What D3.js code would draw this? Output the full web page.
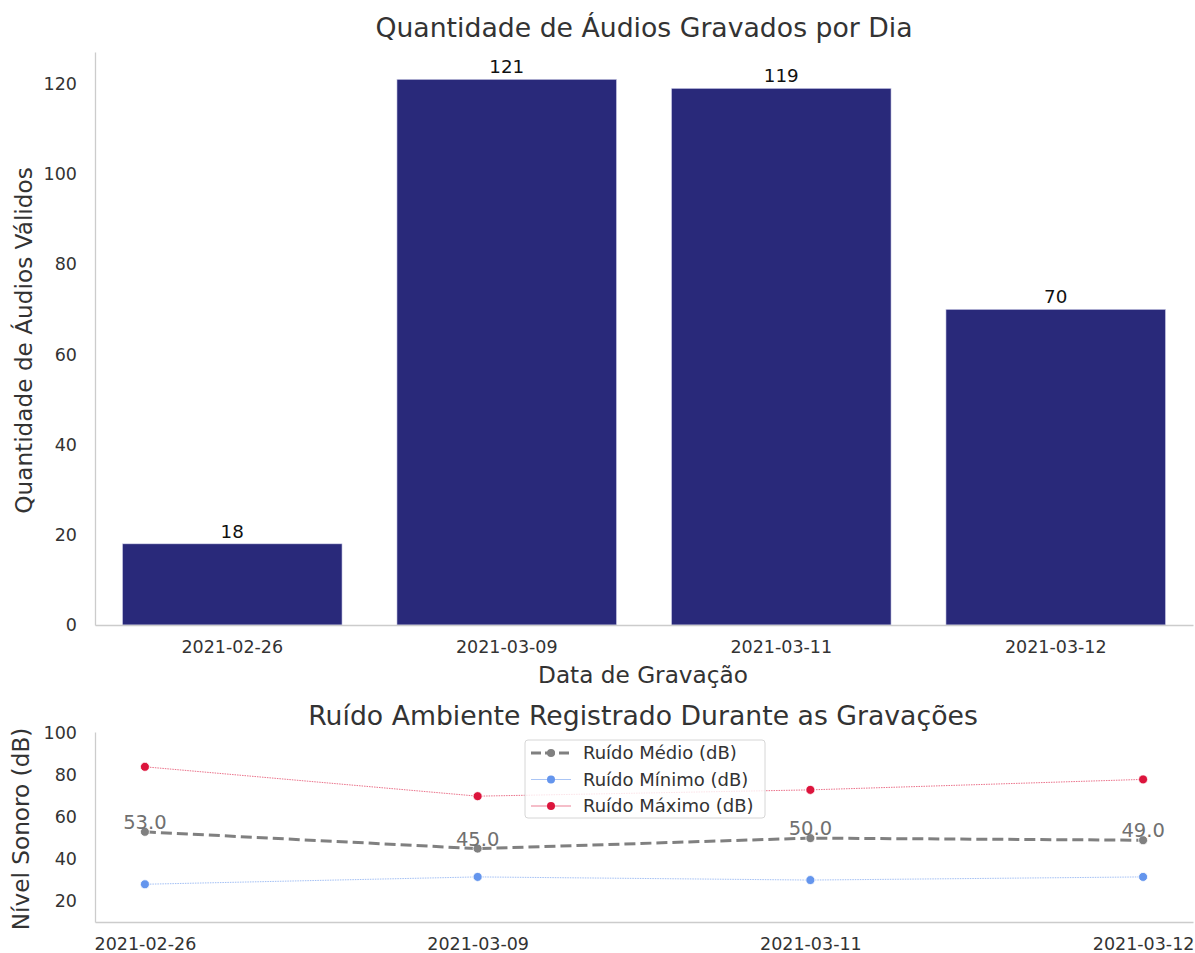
<!DOCTYPE html>
<html>
<head>
<meta charset="utf-8">
<script src="https://cdn.jsdelivr.net/npm/d3@7"></script>
<style>
  body { margin: 0; background: #fff; }
  svg text { font-family: "DejaVu Sans", sans-serif; }
</style>
</head>
<body>
<svg width="1195" height="953"></svg>
<script>
// dados
const dates = ["2021-02-26", "2021-03-09", "2021-03-11", "2021-03-12"];
const audioCounts = [18, 121, 119, 70];
const noiseMean = [53, 45, 50, 49];
const noiseMin = [28, 31.5, 30, 31.5];
const noiseMax = [84, 70, 73, 78];
const countTicks = [0, 20, 40, 60, 80, 100, 120];
const noiseTicks = [20, 40, 60, 80, 100];

const svg = d3.select("svg");
const spine = "#cccccc";
const textCol = "#333";

function styleAxis(ax) {
  ax.attr("font-family", null);
  ax.select(".domain").attr("stroke", spine).attr("stroke-width", 1.3);
  ax.selectAll("text").style("font-size", "17.5px").attr("fill", textCol);
}

// ---- gráfico de barras ----
const left = 95, right = 1193;
const top1 = 52, bottom1 = 625;

const x1 = d3.scaleBand().domain(dates).range([left, right]).paddingInner(0.2).paddingOuter(0.1);
const y1 = d3.scaleLinear().domain([0, 127.05]).range([bottom1, top1]);

const g1 = svg.append("g");

g1.selectAll(".bar")
  .data(dates)
  .enter()
  .append("rect")
  .attr("class", "bar")
  .attr("x", d => x1(d))
  .attr("width", x1.bandwidth())
  .attr("y", (d, i) => y1(audioCounts[i]))
  .attr("height", (d, i) => y1(0) - y1(audioCounts[i]))
  .attr("fill", "#29297a")
  .attr("stroke", "#d8d8ee")
  .attr("stroke-width", 0.6);

g1.selectAll(".barlabel")
  .data(dates)
  .enter()
  .append("text")
  .attr("x", d => x1(d) + x1.bandwidth() / 2)
  .attr("y", (d, i) => y1(audioCounts[i]) - 6)
  .attr("text-anchor", "middle")
  .style("font-size", "18.3px")
  .attr("fill", "#111")
  .text((d, i) => audioCounts[i]);

// eixos
const yAxis1 = g1.append("g")
  .attr("transform", `translate(${left},0)`)
  .call(d3.axisLeft(y1).tickValues(countTicks).tickSize(0).tickPadding(18));
styleAxis(yAxis1);

const xAxis1 = g1.append("g")
  .attr("transform", `translate(0,${bottom1})`)
  .call(d3.axisBottom(x1).tickSize(0).tickPadding(16));
styleAxis(xAxis1);

svg.append("text")
  .attr("x", 644).attr("y", 37)
  .attr("text-anchor", "middle")
  .style("font-size", "26.7px").attr("fill", textCol)
  .text("Quantidade de Áudios Gravados por Dia");

svg.append("text")
  .attr("x", 643).attr("y", 683)
  .attr("text-anchor", "middle")
  .style("font-size", "23.2px").attr("fill", textCol)
  .text("Data de Gravação");

svg.append("text")
  .attr("transform", `translate(32,${(top1 + bottom1) / 2 + 2}) rotate(-90)`)
  .attr("text-anchor", "middle")
  .style("font-size", "23.2px").attr("fill", textCol)
  .text("Quantidade de Áudios Válidos");

// ---- gráfico de linhas (ruído) ----
const top2 = 732, bottom2 = 922;
const x2 = d3.scalePoint().domain(dates).range([left, right]).padding(0.15);
const y2 = d3.scaleLinear().domain([10, 100.6]).range([bottom2, top2]);

const g2 = svg.append("g");

const yAxis2 = g2.append("g")
  .attr("transform", `translate(${left},0)`)
  .call(d3.axisLeft(y2).tickValues(noiseTicks).tickSize(0).tickPadding(18));
styleAxis(yAxis2);

const xAxis2 = g2.append("g")
  .attr("transform", `translate(0,${bottom2})`)
  .call(d3.axisBottom(x2).tickSize(0).tickPadding(16));
styleAxis(xAxis2);

const series = [
  { name: "Ruído Médio (dB)", values: noiseMean, color: "#808080", width: 3, dash: "11,5", opacity: 1, r: 4.5 },
  { name: "Ruído Mínimo (dB)", values: noiseMin, color: "#6495ed", width: 1, dash: "1.5,1", opacity: 0.6, r: 4.5 },
  { name: "Ruído Máximo (dB)", values: noiseMax, color: "#dc143c", width: 1, dash: "1.5,1", opacity: 0.6, r: 4.5 }
];

const line = d3.line().x(d => x2(d.date)).y(d => y2(d.v));

series.forEach(s => {
  const pts = dates.map((d, i) => ({ date: d, v: s.values[i] }));
  g2.append("path")
    .datum(pts)
    .attr("d", line)
    .attr("fill", "none")
    .attr("stroke", s.color)
    .attr("stroke-width", s.width)
    .attr("stroke-dasharray", s.dash)
    .attr("stroke-opacity", s.opacity);
  g2.selectAll(null)
    .data(pts)
    .enter()
    .append("circle")
    .attr("cx", d => x2(d.date))
    .attr("cy", d => y2(d.v))
    .attr("r", s.r)
    .attr("fill", s.color)
    .attr("stroke", "#fff")
    .attr("stroke-width", 0.8);
});

// rótulos do ruído médio
g2.selectAll(".meanlabel")
  .data(dates)
  .enter()
  .append("text")
  .attr("x", d => x2(d))
  .attr("y", (d, i) => y2(noiseMean[i]) - 3)
  .attr("text-anchor", "middle")
  .style("font-size", "19.5px")
  .attr("fill", "#707070")
  .text((d, i) => noiseMean[i].toFixed(1));

// legenda
const leg = svg.append("g").attr("transform", "translate(525,740)");
leg.append("rect")
  .attr("width", 240).attr("height", 78)
  .attr("rx", 3)
  .attr("fill", "#fff").attr("fill-opacity", 0.8)
  .attr("stroke", "#d6d6d6");
series.forEach((s, i) => {
  const yy = 13 + i * 26.5;
  leg.append("line")
    .attr("x1", 6).attr("x2", 46)
    .attr("y1", yy).attr("y2", yy)
    .attr("stroke", s.color)
    .attr("stroke-width", s.width)
    .attr("stroke-dasharray", i === 0 ? "10,4" : null)
    .attr("stroke-opacity", i === 0 ? 1 : 0.55);
  leg.append("circle")
    .attr("cx", 26).attr("cy", yy).attr("r", 4)
    .attr("fill", s.color);
  leg.append("text")
    .attr("x", 58).attr("y", yy + 6)
    .style("font-size", "18px")
    .attr("fill", textCol)
    .text(s.name);
});

svg.append("text")
  .attr("x", 643).attr("y", 725)
  .attr("text-anchor", "middle")
  .style("font-size", "26.7px").attr("fill", textCol)
  .text("Ruído Ambiente Registrado Durante as Gravações");

svg.append("text")
  .attr("transform", `translate(29,${(top2 + bottom2) / 2 + 2}) rotate(-90)`)
  .attr("text-anchor", "middle")
  .style("font-size", "23.2px").attr("fill", textCol)
  .text("Nível Sonoro (dB)");
</script>
</body>
</html>
